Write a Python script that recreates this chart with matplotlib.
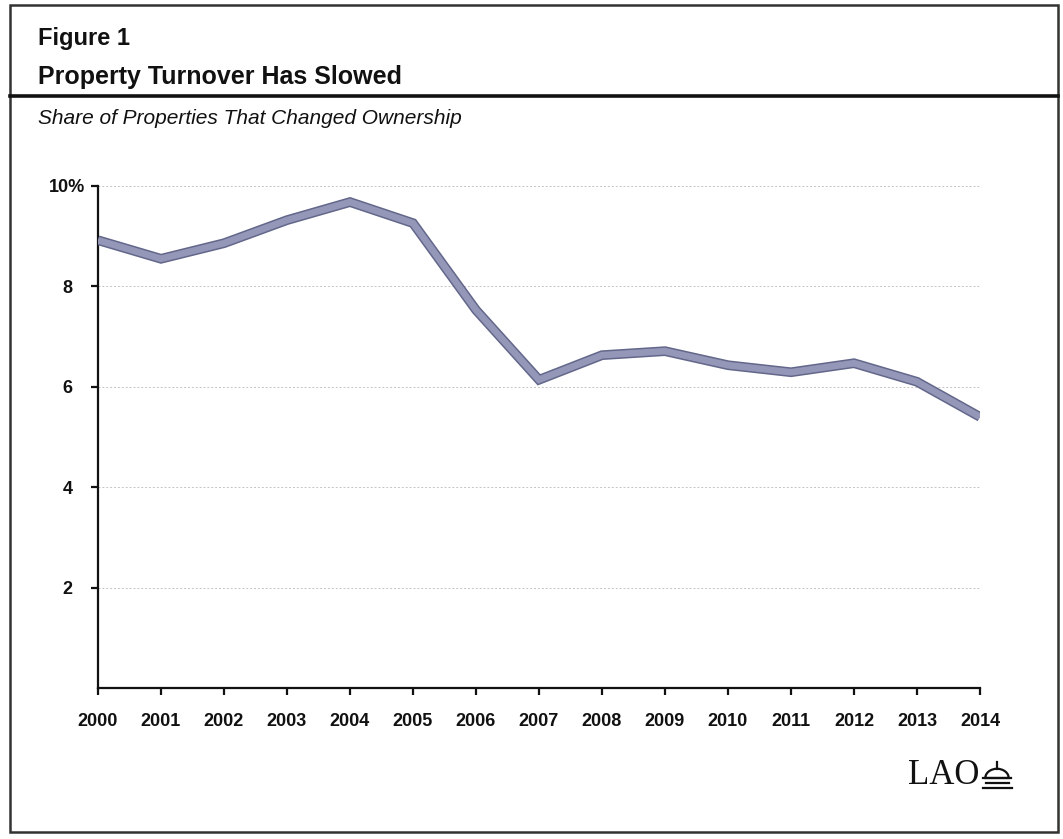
import matplotlib.pyplot as plt
from matplotlib.patches import Rectangle, Wedge
from matplotlib.lines import Line2D

# data
years = [2000, 2001, 2002, 2003, 2004, 2005, 2006, 2007,
         2008, 2009, 2010, 2011, 2012, 2013, 2014]
share = [8.92, 8.55, 8.86, 9.32, 9.68, 9.26, 7.53, 6.14,
         6.63, 6.71, 6.43, 6.29, 6.47, 6.10, 5.40]
y_ticks = [2, 4, 6, 8, 10]
y_labels = ['2', '4', '6', '8', '10%']

W, H = 1063, 839
fig = plt.figure(figsize=(W / 100, H / 100), dpi=100)
fig.patch.set_facecolor('white')


def fx(px):
    return px / W


def fy(py):
    return 1 - py / H


# outer frame and header rule
fig.add_artist(Rectangle((fx(10), fy(832)), 1048 / W, 827 / H,
                         transform=fig.transFigure, fill=False,
                         edgecolor='#333333', linewidth=1.8))
fig.add_artist(Line2D([fx(10), fx(1058)], [fy(96), fy(96)],
                      transform=fig.transFigure, color='#111111', linewidth=2.6))

sans = 'Liberation Sans'
fig.text(fx(38), fy(39), 'Figure 1', fontsize=17, fontweight='bold',
         family=sans, va='center', ha='left', color='#111111')
fig.text(fx(38), fy(77), 'Property Turnover Has Slowed', fontsize=18,
         fontweight='bold', family=sans, va='center', ha='left', color='#111111')
fig.text(fx(38), fy(118), 'Share of Properties That Changed Ownership',
         fontsize=15, style='italic', family=sans, va='center', ha='left',
         color='#111111')

ax = fig.add_axes([fx(98), fy(688), 882 / W, 502 / H])
ax.plot(years, share, color='#63678a', linewidth=7.0, solid_joinstyle='miter',
        solid_capstyle='butt', zorder=3)
ax.plot(years, share, color='#9497b8', linewidth=4.8, solid_joinstyle='miter',
        solid_capstyle='butt', zorder=4)

ax.set_xlim(2000, 2014)
ax.set_ylim(0, 10)
ax.set_xticks(years)
ax.set_xticklabels([str(y) for y in years])
ax.set_yticks(y_ticks)
ax.set_yticklabels(y_labels)
ax.yaxis.grid(True, color='#c4c4c4', linestyle=(0, (2, 2)), linewidth=0.7)
ax.set_axisbelow(True)

for side in ['top', 'right']:
    ax.spines[side].set_visible(False)
for side in ['left', 'bottom']:
    ax.spines[side].set_linewidth(1.6)
    ax.spines[side].set_color('#111111')

ax.tick_params(axis='both', direction='out', length=5, width=1.6, color='#111111',
               labelsize=13)
ax.tick_params(axis='y', pad=17)
ax.tick_params(axis='x', pad=13)
for lab in ax.get_xticklabels() + ax.get_yticklabels():
    lab.set_fontweight('bold')
    lab.set_family(sans)
    lab.set_color('#111111')
for lab in ax.get_yticklabels():
    lab.set_horizontalalignment('center')

fig.text(fx(944), fy(775), 'LAO', fontsize=25, family='Liberation Serif',
         va='center', ha='center', color='#111111')

# small capitol dome next to the LAO mark
dome = Wedge((fx(997), fy(778)), 0.011, 0, 180, transform=fig.transFigure,
             facecolor='none', edgecolor='#111111', linewidth=1.6)
fig.add_artist(dome)
for py, x0, x1 in [(778, 983, 1011), (783, 986, 1009), (788, 983, 1012)]:
    fig.add_artist(Line2D([fx(x0), fx(x1)], [fy(py), fy(py)],
                          transform=fig.transFigure, color='#111111', linewidth=1.6))
fig.add_artist(Line2D([fx(997), fx(997)], [fy(769), fy(762)],
                      transform=fig.transFigure, color='#111111', linewidth=1.6))

fig.savefig('out.png', dpi=100)
